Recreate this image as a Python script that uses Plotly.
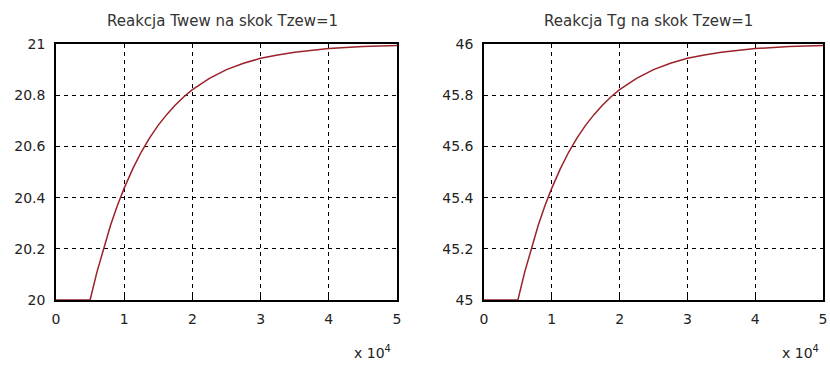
import plotly.graph_objects as go

t = [0, 5000, 6000, 7000, 8000, 9000, 10000, 11250, 12500, 13750, 15000, 16250, 17500,
     18750, 20000, 22500, 25000, 27500, 30000, 32500, 35000, 40000, 45000, 50000]
twew = [20.0, 20.0, 20.109, 20.205, 20.292, 20.369, 20.437, 20.512, 20.578, 20.634,
        20.683, 20.725, 20.762, 20.794, 20.822, 20.866, 20.900, 20.925, 20.944, 20.957,
        20.968, 20.982, 20.990, 20.994]
tg = [45.0, 45.0, 45.109, 45.205, 45.292, 45.369, 45.437, 45.512, 45.578, 45.634,
      45.683, 45.725, 45.762, 45.794, 45.822, 45.866, 45.900, 45.925, 45.944, 45.957,
      45.968, 45.982, 45.990, 45.994]

titles = ["Reakcja Twew na skok Tzew=1", "Reakcja Tg na skok Tzew=1"]
xticks = [0, 10000, 20000, 30000, 40000, 50000]
xticklabels = ["0", "1", "2", "3", "4", "5"]
yticks_l = [20, 20.2, 20.4, 20.6, 20.8, 21]
yticklabels_l = ["20", "20.2", "20.4", "20.6", "20.8", "21"]
yticks_r = [45, 45.2, 45.4, 45.6, 45.8, 46]
yticklabels_r = ["45", "45.2", "45.4", "45.6", "45.8", "46"]

W, H = 830, 370
fam = "DejaVu Sans, Liberation Sans, Arial, sans-serif"
font = dict(family=fam, size=14, color="#222")

def px_x(p):
    return p / W

def px_y(p):
    return 1 - p / H

xl = [px_x(56), px_x(397)]
xr = [px_x(484), px_x(823)]
ydom = [px_y(300), px_y(44)]

fig = go.Figure()
fig.add_trace(go.Scatter(x=t, y=twew, mode="lines", line=dict(color="#9a2228", width=1.5),
                         xaxis="x", yaxis="y", showlegend=False))
fig.add_trace(go.Scatter(x=t, y=tg, mode="lines", line=dict(color="#9a2228", width=1.5),
                         xaxis="x2", yaxis="y2", showlegend=False))

ax_common = dict(showline=True, linecolor="black", linewidth=1.5, mirror=True,
                 showgrid=True, gridcolor="black", griddash="4px,4px", gridwidth=1,
                 ticks="inside", ticklen=4, tickcolor="black", zeroline=False,
                 tickfont=font, automargin=False)
fig.update_layout(
    template="none",
    width=W, height=H, margin=dict(l=0, r=0, t=0, b=0),
    paper_bgcolor="white", plot_bgcolor="white", font=font,
    xaxis=dict(domain=xl, range=[0, 50000], tickvals=xticks, ticktext=xticklabels,
               anchor="y", ticklabelstandoff=5, **ax_common),
    yaxis=dict(domain=ydom, range=[20, 21], tickvals=yticks_l, ticktext=yticklabels_l,
               anchor="x", ticklabelstandoff=6, **ax_common),
    xaxis2=dict(domain=xr, range=[0, 50000], tickvals=xticks, ticktext=xticklabels,
                anchor="y2", ticklabelstandoff=5, **ax_common),
    yaxis2=dict(domain=ydom, range=[45, 46], tickvals=yticks_r, ticktext=yticklabels_r,
                anchor="x2", ticklabelstandoff=6, **ax_common),
    annotations=[
        dict(text=titles[0], x=px_x(222), y=px_y(21), xref="paper", yref="paper",
             xanchor="center", yanchor="middle", showarrow=False,
             font=dict(family=fam, size=15, color="#333")),
        dict(text=titles[1], x=px_x(648), y=px_y(21), xref="paper", yref="paper",
             xanchor="center", yanchor="middle", showarrow=False,
             font=dict(family=fam, size=15, color="#333")),
        dict(text="x 10<sup>4</sup>", x=px_x(372), y=px_y(352), xref="paper", yref="paper",
             xanchor="center", yanchor="middle", showarrow=False, font=font),
        dict(text="x 10<sup>4</sup>", x=px_x(800), y=px_y(352), xref="paper", yref="paper",
             xanchor="center", yanchor="middle", showarrow=False, font=font),
    ],
)
fig.write_html("out.html", config={"displayModeBar": False},
               post_script="document.body.style.margin='0';document.body.style.overflow='hidden';")
